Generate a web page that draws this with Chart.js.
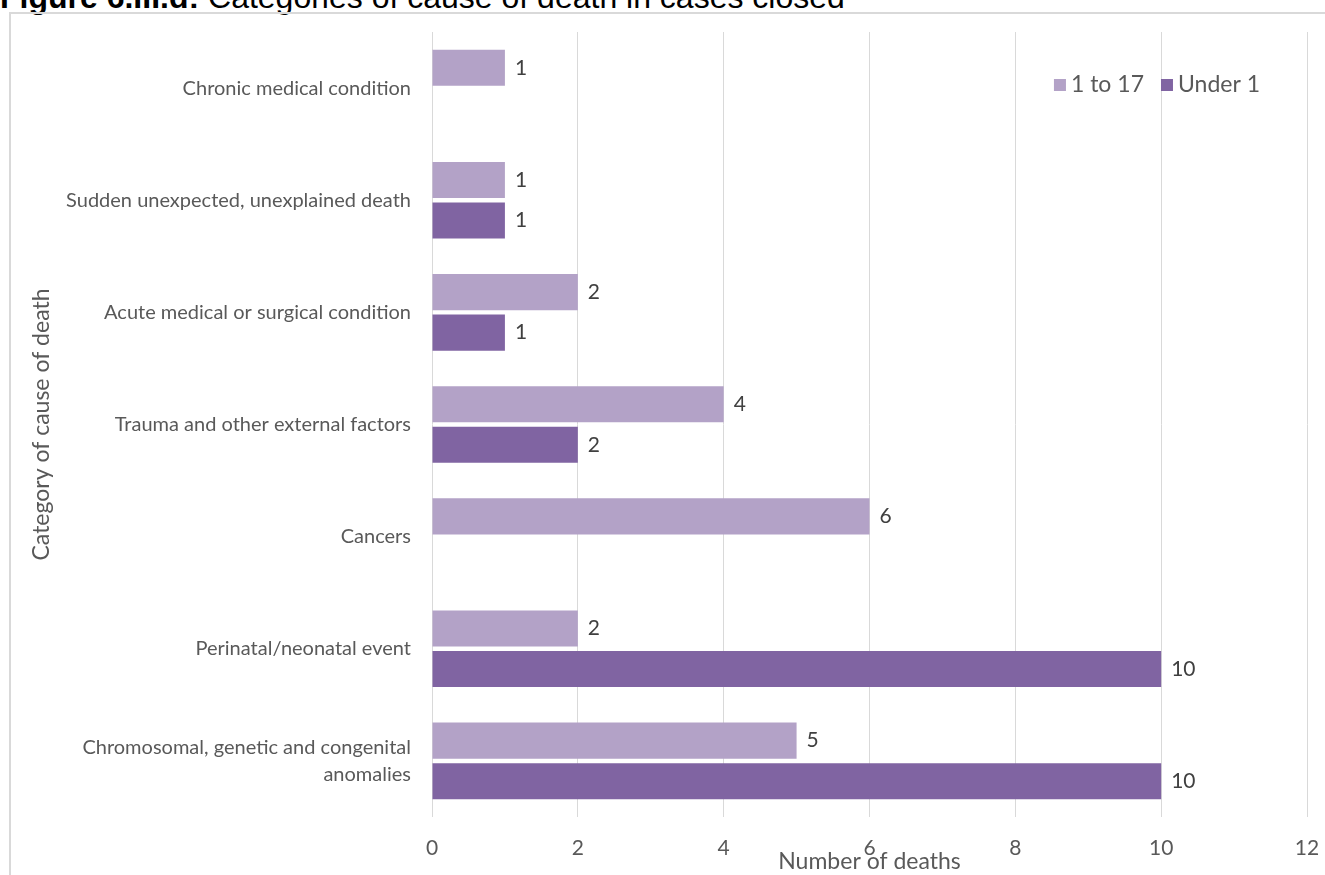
<!DOCTYPE html>
<html>
<head>
<meta charset="utf-8">
<script src="https://cdn.jsdelivr.net/npm/chart.js@4"></script>
<style>
  html, body { margin: 0; padding: 0; background: #fff; overflow: hidden; }
  #title { position: absolute; left: 0; top: -19px; font-family: "Liberation Sans", Arial, sans-serif; font-size: 32px; line-height: 32px; color: #000; white-space: nowrap; }
  #frame { position: absolute; left: 9px; top: 12px; width: 1400px; height: 1000px; border: 2px solid #d9d9d9; box-sizing: border-box; }
  #c { position: absolute; left: 0; top: 0; }
</style>
</head>
<body>
<div id="title"><b>Figure 6.III.d:</b> Categories of cause of death in cases closed</div>
<div id="frame"></div>
<canvas id="c" width="1325" height="875"></canvas>
<script>
const categories = [
  "Chronic medical condition",
  "Sudden unexpected, unexplained death",
  "Acute medical or surgical condition",
  "Trauma and other external factors",
  "Cancers",
  "Perinatal/neonatal event",
  ["Chromosomal, genetic and congenital", "anomalies"]
];
const seriesNames = ["1 to 17", "Under 1"];
const age1to17 = [1, 1, 2, 4, 6, 2, 5];
const under1 = [null, 1, 1, 2, null, 10, 10];
const xTicks = [0, 2, 4, 6, 8, 10, 12];
const colors = ["#B3A2C7", "#8064A2"];

const FONT = "Lato, 'Open Sans', sans-serif";
const GREY = "#595959";

const valueLabels = {
  id: "valueLabels",
  afterDatasetsDraw(chart) {
    const ctx = chart.ctx;
    ctx.save();
    ctx.font = "21px " + FONT;
    ctx.fillStyle = "#404040";
    ctx.textBaseline = "middle";
    ctx.textAlign = "left";
    chart.data.datasets.forEach((ds, di) => {
      const meta = chart.getDatasetMeta(di);
      meta.data.forEach((el, i) => {
        const v = ds.data[i];
        if (v === null || v === undefined) return;
        ctx.fillText(String(v), el.x + 10, el.y);
      });
    });
    ctx.restore();
  }
};

const customLegend = {
  id: "customLegend",
  afterDraw(chart) {
    const ctx = chart.ctx;
    const area = chart.chartArea;
    ctx.save();
    ctx.font = "23px " + FONT;
    ctx.textBaseline = "middle";
    ctx.textAlign = "left";
    const box = 12, gapBox = 5, gapItem = 17;
    const widths = seriesNames.map(n => ctx.measureText(n).width);
    let total = 0;
    widths.forEach((w, i) => { total += box + gapBox + w + (i < widths.length - 1 ? gapItem : 0); });
    let x = area.right - 47 - total;
    const y = area.top + 53;
    seriesNames.forEach((n, i) => {
      ctx.fillStyle = colors[i];
      ctx.fillRect(x, y - box / 2, box, box);
      x += box + gapBox;
      ctx.fillStyle = GREY;
      ctx.fillText(n, x, y);
      x += widths[i] + gapItem;
    });
    ctx.restore();
  }
};

function noPad(scale) {
  scale.paddingTop = 0; scale.paddingBottom = 0;
  scale.paddingLeft = 0; scale.paddingRight = 0;
}

new Chart(document.getElementById("c"), {
  type: "bar",
  data: {
    labels: categories,
    datasets: [
      { label: seriesNames[0], data: age1to17, backgroundColor: colors[0], categoryPercentage: 0.723, barPercentage: 0.89 },
      { label: seriesNames[1], data: under1, backgroundColor: colors[1], categoryPercentage: 0.723, barPercentage: 0.89 }
    ]
  },
  options: {
    indexAxis: "y",
    responsive: false,
    devicePixelRatio: 1,
    animation: false,
    layout: { padding: { left: 0, right: 18, top: 32, bottom: 0 } },
    plugins: { legend: { display: false }, tooltip: { enabled: false } },
    scales: {
      x: {
        min: xTicks[0], max: xTicks[xTicks.length - 1],
        afterBuildTicks(scale) { scale.ticks = xTicks.map(v => ({ value: v })); },
        afterFit(scale) { scale.height = 58; noPad(scale); },
        ticks: { color: GREY, font: { family: FONT, size: 21 }, padding: 19 },
        grid: { color: "#d9d9d9", lineWidth: 1, drawTicks: false },
        border: { display: false },
        title: { display: true, text: "Number of deaths", color: GREY, font: { family: FONT, size: 23 }, padding: 0 }
      },
      y: {
        afterFit(scale) { scale.width = 432; noPad(scale); },
        ticks: { color: GREY, font: { family: FONT, size: 20, lineHeight: 1.35 }, padding: 21 },
        grid: { display: false, drawTicks: false },
        border: { display: false },
        title: { display: true, text: "Category of cause of death", color: GREY, font: { family: FONT, size: 23 }, padding: { top: 28, bottom: 0 } }
      }
    }
  },
  plugins: [valueLabels, customLegend]
});
</script>
</body>
</html>
